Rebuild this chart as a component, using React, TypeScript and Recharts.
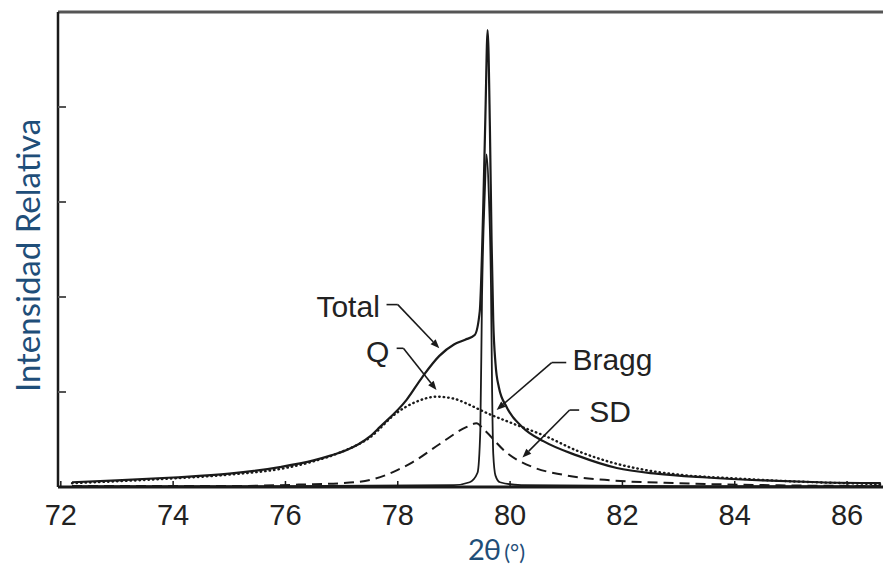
import { LineChart, Line, XAxis, YAxis, ReferenceLine, ReferenceDot } from 'recharts';

// 2θ positions (deg) and relative intensities
const totalX = [72.2, 73, 74, 75, 75.9, 76.5, 76.8, 77.09, 77.3, 77.5, 77.68, 78.16, 78.44, 78.74, 79.0, 79.2, 79.37, 79.46, 79.52, 79.56, 79.6, 79.64, 79.67, 79.7, 79.74, 79.8, 79.94, 80.22, 80.6, 81.2, 81.9, 82.6, 83.5, 84.5, 85.5, 86.6];
const totalY = [0.05, 0.07, 0.1, 0.14, 0.21, 0.28, 0.33, 0.39, 0.45, 0.53, 0.63, 0.92, 1.16, 1.38, 1.5, 1.55, 1.6, 1.85, 2.9, 3.9, 4.81, 3.8, 2.6, 1.75, 1.3, 1.05, 0.84, 0.63, 0.48, 0.33, 0.2, 0.14, 0.1, 0.07, 0.05, 0.04];

const qX = [72.2, 73, 74, 75, 76, 76.5, 77.0, 77.5, 77.98, 78.3, 78.69, 79.0, 79.22, 79.58, 80.04, 80.65, 81.2, 81.8, 82.4, 83, 84, 85, 86.6];
const qY = [0.04, 0.06, 0.09, 0.13, 0.2, 0.27, 0.37, 0.52, 0.78, 0.89, 0.95, 0.93, 0.88, 0.78, 0.67, 0.53, 0.38, 0.26, 0.18, 0.13, 0.09, 0.06, 0.03];

const sdX = [72.2, 75, 76.5, 77.0, 77.55, 78.0, 78.26, 78.74, 79.22, 79.4, 79.54, 79.94, 80.4, 80.93, 81.8, 83, 84.5, 86.6];
const sdY = [0.01, 0.01, 0.03, 0.04, 0.08, 0.18, 0.26, 0.45, 0.63, 0.67, 0.6, 0.36, 0.21, 0.13, 0.07, 0.04, 0.02, 0.01];

const braggX = [72.2, 76, 79.0, 79.28, 79.42, 79.47, 79.5, 79.55, 79.58, 79.62, 79.66, 79.68, 79.7, 79.74, 79.82, 80.2, 83, 86.6];
const braggY = [0.01, 0.01, 0.02, 0.05, 0.15, 0.6, 2.0, 3.1, 3.5, 3.1, 2.1, 1.0, 0.35, 0.12, 0.05, 0.02, 0.01, 0.01];

const xTicks = [72, 74, 76, 78, 80, 82, 84, 86];
const yTicks = [1, 2, 3, 4];

// callouts: text anchor point, short horizontal stub, then arrow to the curve
const notes = [
  { text: 'Total', tx: 77.68, ty: 1.79, anchor: 'end', sx: 77.8, hx: 78.0, hy: 1.92, ax: 78.74, ay: 1.46 },
  { text: 'Q', tx: 77.85, ty: 1.32, anchor: 'end', sx: 77.98, hx: 78.1, hy: 1.46, ax: 78.69, ay: 1.02 },
  { text: 'Bragg', tx: 81.11, ty: 1.23, anchor: 'start', sx: 81.0, hx: 80.74, hy: 1.31, ax: 79.76, ay: 0.81 },
  { text: 'SD', tx: 81.41, ty: 0.68, anchor: 'start', sx: 81.23, hx: 81.06, hy: 0.81, ax: 80.22, ay: 0.31 },
];

const toPoints = (xs: number[], ys: number[]) => xs.map((x, i) => ({ x, y: ys[i] }));

const ink = '#1a1a1a';
const labelBlue = '#1f4e79';

function Arrow(props: any) {
  const { x1, y1, x2, y2 } = props;
  const dx = x2 - x1;
  const dy = y2 - y1;
  const len = Math.sqrt(dx * dx + dy * dy) || 1;
  const ux = dx / len;
  const uy = dy / len;
  const bx = x2 - ux * 9;
  const by = y2 - uy * 9;
  return (
    <g>
      <line x1={x1} y1={y1} x2={bx} y2={by} stroke={ink} strokeWidth={1.6} />
      <polygon
        points={`${x2},${y2} ${bx - uy * 3.5},${by + ux * 3.5} ${bx + uy * 3.5},${by - ux * 3.5}`}
        fill={ink}
      />
    </g>
  );
}

function Stub(props: any) {
  const { x1, y1, x2, y2 } = props;
  return <line x1={x1} y1={y1} x2={x2} y2={y2} stroke={ink} strokeWidth={1.6} />;
}

function YLabel(props: any) {
  const { viewBox } = props;
  const cx = viewBox.x + 27;
  const cy = viewBox.y + viewBox.height / 2 + 6;
  return (
    <text
      x={cx}
      y={cy}
      transform={`rotate(-90, ${cx}, ${cy})`}
      textAnchor="middle"
      dominantBaseline="central"
      fontFamily="Lato, 'Open Sans', sans-serif"
      fontSize={33}
      fill={labelBlue}
    >
      Intensidad Relativa
    </text>
  );
}

function XLabel(props: any) {
  const { viewBox } = props;
  return (
    <text x={viewBox.x + 410} y={viewBox.y + 73} fontFamily="Lato, 'Open Sans', sans-serif" fill={labelBlue}>
      <tspan fontSize={29} letterSpacing={-1}>2θ</tspan>
      <tspan fontSize={22} dx={4}>(°)</tspan>
    </text>
  );
}

export default function App() {
  return (
    <div style={{ position: 'absolute', left: 0, top: 0, background: '#fff' }}>
      <LineChart width={883} height={567} margin={{ top: 12, right: 0, bottom: 20, left: 0 }}>
        <XAxis
          dataKey="x"
          type="number"
          domain={[71.95, 86.64]}
          ticks={xTicks}
          interval={0}
          allowDataOverflow
          height={60}
          tickSize={-6}
          tickMargin={23}
          axisLine={{ stroke: ink, strokeWidth: 3 }}
          tickLine={{ stroke: ink, strokeWidth: 1.5 }}
          tick={{ fontSize: 29, fill: '#222', fontFamily: "'Liberation Sans', Arial, sans-serif" }}
          label={<XLabel />}
        />
        <YAxis
          type="number"
          domain={[0, 5]}
          ticks={yTicks}
          allowDataOverflow
          width={58}
          tickSize={-8}
          tickFormatter={() => ''}
          axisLine={{ stroke: ink, strokeWidth: 2.5 }}
          tickLine={{ stroke: '#555', strokeWidth: 2 }}
          label={<YLabel />}
        />
        <ReferenceLine y={5} stroke="#555" strokeWidth={3} />
        <Line data={toPoints(sdX, sdY)} dataKey="y" type="monotone" stroke={ink} strokeWidth={2} strokeDasharray="10 6" dot={false} isAnimationActive={false} />
        <Line data={toPoints(qX, qY)} dataKey="y" type="monotone" stroke={ink} strokeWidth={2.4} strokeDasharray="0.5 4" strokeLinecap="round" dot={false} isAnimationActive={false} />
        <Line data={toPoints(braggX, braggY)} dataKey="y" type="monotone" stroke={ink} strokeWidth={1.8} dot={false} isAnimationActive={false} />
        <Line data={toPoints(totalX, totalY)} dataKey="y" type="monotone" stroke={ink} strokeWidth={2.2} dot={false} isAnimationActive={false} />
        {notes.map((n) => (
          <ReferenceLine
            key={`stub-${n.text}`}
            segment={[{ x: n.sx, y: n.hy }, { x: n.hx, y: n.hy }]}
            shape={(p: any) => <Stub {...p} />}
          />
        ))}
        {notes.map((n) => (
          <ReferenceLine
            key={`arrow-${n.text}`}
            segment={[{ x: n.hx, y: n.hy }, { x: n.ax, y: n.ay }]}
            shape={(p: any) => <Arrow {...p} />}
          />
        ))}
        {notes.map((n) => (
          <ReferenceDot
            key={`text-${n.text}`}
            x={n.tx}
            y={n.ty}
            r={0}
            shape={(p: any) => (
              <text
                x={p.cx}
                y={p.cy}
                textAnchor={n.anchor}
                fontFamily="'Liberation Sans', Arial, sans-serif"
                fontSize={30}
                fill="#222"
              >
                {n.text}
              </text>
            )}
          />
        ))}
      </LineChart>
    </div>
  );
}
